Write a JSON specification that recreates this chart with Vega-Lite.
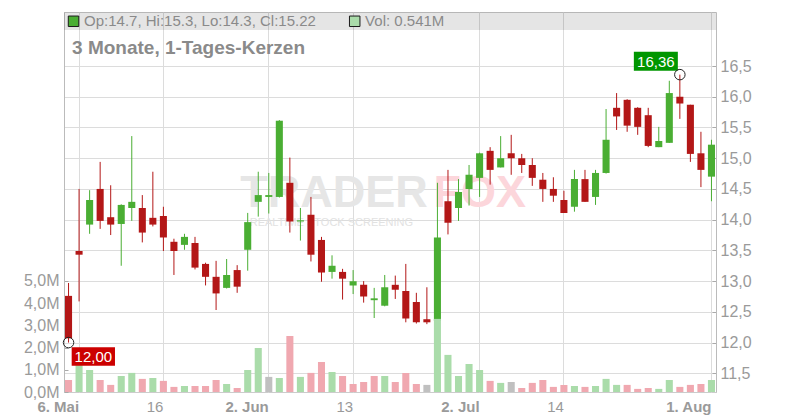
{
  "$schema": "https://vega.github.io/schema/vega-lite/v6.json",
  "width": 652,
  "height": 380,
  "autosize": {"type": "none"},
  "padding": {"left": 64, "top": 12, "right": 84, "bottom": 28},
  "background": "white",
  "config": {
    "font": "Liberation Sans",
    "view": {"stroke": "#cccccc", "strokeWidth": 1},
    "axis": {"labelFont": "Liberation Sans", "labelColor": "#9a9a9a", "gridColor": "#dcdcdc", "gridWidth": 1, "domainColor": "#bbbbbb", "tickColor": "#aaaaaa", "title": null, "labelOverlap": false}
  },
  "data": {"values": [
    {"d":"2025-05-05","o":12.76,"h":12.97,"l":12.00,"c":12.07,"v":540000},
    {"d":"2025-05-06","o":13.49,"h":14.50,"l":12.67,"c":13.43,"v":1400000},
    {"d":"2025-05-07","o":13.92,"h":14.48,"l":13.77,"c":14.32,"v":990000},
    {"d":"2025-05-08","o":14.50,"h":14.94,"l":13.85,"c":13.98,"v":540000},
    {"d":"2025-05-09","o":14.04,"h":14.56,"l":13.75,"c":13.92,"v":320000},
    {"d":"2025-05-12","o":13.93,"h":14.25,"l":13.25,"c":14.24,"v":720000},
    {"d":"2025-05-13","o":14.19,"h":15.36,"l":13.98,"c":14.29,"v":860000},
    {"d":"2025-05-14","o":14.19,"h":14.40,"l":13.63,"c":13.79,"v":590000},
    {"d":"2025-05-15","o":14.03,"h":14.78,"l":13.89,"c":13.92,"v":630000},
    {"d":"2025-05-16","o":14.06,"h":14.21,"l":13.49,"c":13.71,"v":500000},
    {"d":"2025-05-19","o":13.64,"h":13.69,"l":13.10,"c":13.49,"v":230000},
    {"d":"2025-05-20","o":13.59,"h":13.77,"l":13.51,"c":13.72,"v":270000},
    {"d":"2025-05-21","o":13.62,"h":13.72,"l":13.19,"c":13.22,"v":270000},
    {"d":"2025-05-22","o":13.28,"h":13.30,"l":12.93,"c":13.07,"v":270000},
    {"d":"2025-05-23","o":13.07,"h":13.33,"l":12.53,"c":12.80,"v":540000},
    {"d":"2025-05-26","o":12.89,"h":13.36,"l":12.88,"c":13.10,"v":360000},
    {"d":"2025-05-27","o":13.18,"h":13.26,"l":12.81,"c":12.91,"v":180000},
    {"d":"2025-05-28","o":13.51,"h":14.11,"l":13.17,"c":13.96,"v":990000},
    {"d":"2025-05-30","o":14.29,"h":14.78,"l":14.05,"c":14.40,"v":1980000},
    {"d":"2025-06-02","o":14.37,"h":14.76,"l":14.10,"c":14.40,"v":680000},
    {"d":"2025-06-03","o":14.37,"h":15.62,"l":14.36,"c":15.61,"v":630000},
    {"d":"2025-06-04","o":14.60,"h":15.01,"l":13.79,"c":13.97,"v":2520000},
    {"d":"2025-06-05","o":13.97,"h":14.19,"l":13.66,"c":13.99,"v":680000},
    {"d":"2025-06-06","o":14.08,"h":14.37,"l":13.32,"c":13.43,"v":860000},
    {"d":"2025-06-10","o":13.67,"h":13.72,"l":12.99,"c":13.14,"v":1350000},
    {"d":"2025-06-11","o":13.15,"h":13.42,"l":13.04,"c":13.25,"v":900000},
    {"d":"2025-06-12","o":13.15,"h":13.20,"l":12.70,"c":13.04,"v":720000},
    {"d":"2025-06-13","o":12.93,"h":13.18,"l":12.79,"c":13.00,"v":360000},
    {"d":"2025-06-16","o":12.94,"h":13.00,"l":12.65,"c":12.75,"v":450000},
    {"d":"2025-06-17","o":12.69,"h":12.89,"l":12.40,"c":12.72,"v":720000},
    {"d":"2025-06-18","o":12.60,"h":13.10,"l":12.59,"c":12.90,"v":720000},
    {"d":"2025-06-20","o":12.94,"h":13.09,"l":12.71,"c":12.86,"v":450000},
    {"d":"2025-06-23","o":12.84,"h":13.28,"l":12.33,"c":12.39,"v":860000},
    {"d":"2025-06-24","o":12.66,"h":12.81,"l":12.31,"c":12.33,"v":360000},
    {"d":"2025-06-25","o":12.38,"h":12.90,"l":12.30,"c":12.33,"v":320000},
    {"d":"2025-06-26","o":12.35,"h":14.60,"l":12.30,"c":13.71,"v":3290000},
    {"d":"2025-06-27","o":14.30,"h":14.81,"l":13.76,"c":13.95,"v":1670000},
    {"d":"2025-06-30","o":14.19,"h":14.66,"l":13.98,"c":14.45,"v":720000},
    {"d":"2025-07-01","o":14.50,"h":14.89,"l":14.23,"c":14.73,"v":1260000},
    {"d":"2025-07-02","o":14.68,"h":15.09,"l":14.37,"c":15.08,"v":990000},
    {"d":"2025-07-03","o":15.12,"h":15.18,"l":14.57,"c":14.81,"v":500000},
    {"d":"2025-07-04","o":14.85,"h":15.36,"l":14.85,"c":15.00,"v":410000},
    {"d":"2025-07-07","o":15.08,"h":15.38,"l":14.73,"c":15.00,"v":450000},
    {"d":"2025-07-08","o":15.00,"h":15.07,"l":14.76,"c":14.89,"v":180000},
    {"d":"2025-07-09","o":14.89,"h":15.00,"l":14.55,"c":14.68,"v":410000},
    {"d":"2025-07-10","o":14.65,"h":14.76,"l":14.29,"c":14.50,"v":540000},
    {"d":"2025-07-11","o":14.50,"h":14.69,"l":14.29,"c":14.39,"v":230000},
    {"d":"2025-07-14","o":14.32,"h":14.47,"l":14.11,"c":14.11,"v":320000},
    {"d":"2025-07-15","o":14.21,"h":14.81,"l":14.13,"c":14.66,"v":270000},
    {"d":"2025-07-16","o":14.66,"h":14.81,"l":14.29,"c":14.29,"v":230000},
    {"d":"2025-07-17","o":14.37,"h":14.81,"l":14.24,"c":14.76,"v":270000},
    {"d":"2025-07-18","o":14.76,"h":15.80,"l":14.75,"c":15.30,"v":590000},
    {"d":"2025-07-21","o":15.82,"h":16.06,"l":15.46,"c":15.68,"v":320000},
    {"d":"2025-07-22","o":15.95,"h":15.96,"l":15.43,"c":15.53,"v":320000},
    {"d":"2025-07-23","o":15.82,"h":15.83,"l":15.38,"c":15.51,"v":140000},
    {"d":"2025-07-24","o":15.70,"h":15.82,"l":15.18,"c":15.20,"v":180000},
    {"d":"2025-07-25","o":15.18,"h":15.51,"l":15.18,"c":15.28,"v":140000},
    {"d":"2025-07-28","o":15.25,"h":16.26,"l":15.25,"c":16.06,"v":540000},
    {"d":"2025-07-29","o":16.00,"h":16.36,"l":15.64,"c":15.89,"v":230000},
    {"d":"2025-07-30","o":15.87,"h":15.87,"l":14.94,"c":15.07,"v":320000},
    {"d":"2025-07-31","o":15.08,"h":15.43,"l":14.53,"c":14.81,"v":360000},
    {"d":"2025-08-01","o":14.70,"h":15.30,"l":14.30,"c":15.22,"v":541000}
  ]},
  "transform": [
    {"window": [{"op": "lag", "field": "c", "as": "pc"}], "sort": [{"field": "d", "order": "ascending"}]},
    {"calculate": "datum.pc == null ? 'down' : (datum.c > datum.pc ? 'up' : (datum.c < datum.pc ? 'down' : 'flat'))", "as": "vdir"}
  ],
  "layer": [
    {
      "layer": [
        {
          "data": {"values": [{"k": 1}]},
          "mark": {"type": "rect", "fill": "#000000", "opacity": 0.1},
          "encoding": {
            "y": {"datum": 17.379, "type": "quantitative", "scale": {"domain": [11.196, 17.379], "nice": false, "zero": false}},
            "y2": {"datum": 17.086}
          }
        },
        {
          "data": {"values": [{"t": "TRADER"}]},
          "mark": {"type": "text", "align": "left", "baseline": "alphabetic", "fontSize": 45, "fontWeight": "bold", "color": "#e6e6e6", "dx": 3},
          "encoding": {
            "x": {"datum": "2025-05-27", "type": "ordinal"},
            "y": {"datum": 14.211, "type": "quantitative", "scale": {"domain": [11.196, 17.379], "nice": false, "zero": false}},
            "text": {"field": "t"}
          }
        },
        {
          "data": {"values": [{"t": "FOX"}]},
          "mark": {"type": "text", "align": "left", "baseline": "alphabetic", "fontSize": 45, "fontWeight": "bold", "color": "#fcd6db", "dx": -4},
          "encoding": {
            "x": {"datum": "2025-06-26", "type": "ordinal"},
            "y": {"datum": 14.211, "type": "quantitative", "scale": {"domain": [11.196, 17.379], "nice": false, "zero": false}},
            "text": {"field": "t"}
          }
        },
        {
          "data": {"values": [{"t": "REALTIME STOCK SCREENING"}]},
          "mark": {"type": "text", "align": "left", "baseline": "alphabetic", "fontSize": 11, "color": "#e2e2e2", "dx": 2},
          "encoding": {
            "x": {"datum": "2025-05-28", "type": "ordinal"},
            "y": {"datum": 13.90, "type": "quantitative", "scale": {"domain": [11.196, 17.379], "nice": false, "zero": false}},
            "text": {"field": "t"}
          }
        },
        {
          "mark": {"type": "rule", "strokeWidth": 1},
          "encoding": {
            "x": {"field": "d", "type": "ordinal"},
            "y": {"field": "h", "type": "quantitative", "scale": {"domain": [11.196, 17.379], "nice": false, "zero": false}},
            "y2": {"field": "l"},
            "color": {"condition": {"test": "datum.c >= datum.o", "value": "#4aae33"}, "value": "#b31717"}
          }
        },
        {
          "mark": {"type": "bar"},
          "encoding": {
            "x": {
              "field": "d", "type": "ordinal",
              "scale": {"type": "band", "paddingInner": 0.33, "paddingOuter": 0.095},
              "axis": {
                "title": null,
                "values": ["2025-05-06", "2025-05-16", "2025-06-02", "2025-06-13", "2025-07-02", "2025-07-14", "2025-08-01"],
                "labelExpr": "datum.value == '2025-05-06' ? '6. Mai' : datum.value == '2025-05-16' ? '16' : datum.value == '2025-06-02' ? '2. Jun' : datum.value == '2025-06-13' ? '13' : datum.value == '2025-07-02' ? '2. Jul' : datum.value == '2025-07-14' ? '14' : '1. Aug'",
                "labelFontWeight": {"condition": {"test": "indexof(['2025-05-06','2025-06-02','2025-07-02','2025-08-01'], datum.value) >= 0", "value": "bold"}, "value": "normal"},
                "labelAngle": 0,
                "labelFontSize": 15,
                "labelPadding": 14,
                "ticks": false,
                "domain": false,
                "grid": true,
                "labelOverlap": false,
                "bandPosition": 0.5
              }
            },
            "y": {
              "field": "o", "type": "quantitative",
              "scale": {"domain": [11.196, 17.379], "nice": false, "zero": false},
              "axis": {
                "orient": "right",
                "title": null,
                "values": [11.5, 12, 12.5, 13, 13.5, 14, 14.5, 15, 15.5, 16, 16.5],
                "tickCount": 30,
                "labelExpr": "replace(format(datum.value, '.1f'), '.', ',')",
                "labelFontSize": 16,
                "tickSize": -4,
                "labelPadding": 8,
                "labelOverlap": false,
                "grid": true,
                "domain": true
              }
            },
            "y2": {"field": "c"},
            "color": {"condition": {"test": "datum.c >= datum.o", "value": "#4aae33"}, "value": "#b31717"}
          }
        }
      ]
    },
    {
      "mark": {"type": "bar"},
      "encoding": {
        "x": {"field": "d", "type": "ordinal"},
        "y": {
          "field": "v", "type": "quantitative", "stack": null,
          "scale": {"domain": [0, 17100000], "nice": false, "zero": true},
          "axis": {
            "orient": "left",
            "title": null,
            "values": [0, 1000000, 2000000, 3000000, 4000000, 5000000],
            "tickCount": 30,
            "labelExpr": "replace(format(datum.value / 1000000, '.1f'), '.', ',') + 'M'",
            "labelFontSize": 16,
            "tickSize": -4,
            "labelPadding": 9,
            "labelOverlap": false,
            "grid": false,
            "domain": true
          }
        },
        "color": {"field": "vdir", "type": "nominal", "scale": {"domain": ["up", "down", "flat"], "range": ["#aadcaa", "#f0a8b0", "#c0c0c0"]}, "legend": null}
      }
    },
    {
      "layer": [
        {
          "transform": [
            {"joinaggregate": [{"op": "max", "field": "h", "as": "hmax"}]},
            {"filter": "datum.h == datum.hmax"},
            {"calculate": "replace(format(datum.h, '.2f'), '.', ',')", "as": "lbl"}
          ],
          "encoding": {
            "x": {"field": "d", "type": "ordinal"},
            "y": {"field": "h", "type": "quantitative", "scale": {"domain": [11.196, 17.379], "nice": false, "zero": false}, "axis": null}
          },
          "layer": [
            {"mark": {"type": "point", "shape": "M-1,-0.43H1V0.43H-1Z", "size": 1936, "filled": true, "color": "#009600", "opacity": 1, "xOffset": -24, "yOffset": -13.4}},
            {"mark": {"type": "text", "color": "white", "fontSize": 15, "align": "center", "baseline": "middle", "dx": -24, "dy": -13}, "encoding": {"text": {"field": "lbl"}}},
            {"mark": {"type": "point", "shape": "circle", "size": 110, "filled": false, "stroke": "#222222", "strokeWidth": 1, "opacity": 1}}
          ]
        },
        {
          "transform": [
            {"joinaggregate": [{"op": "min", "field": "l", "as": "lmin"}]},
            {"filter": "datum.l == datum.lmin"},
            {"calculate": "replace(format(datum.l, '.2f'), '.', ',')", "as": "lbl"}
          ],
          "encoding": {
            "x": {"field": "d", "type": "ordinal"},
            "y": {"field": "l", "type": "quantitative", "scale": {"domain": [11.196, 17.379], "nice": false, "zero": false}, "axis": null}
          },
          "layer": [
            {"mark": {"type": "point", "shape": "M-1,-0.43H1V0.43H-1Z", "size": 1876, "filled": true, "color": "#cc0000", "opacity": 1, "xOffset": 24.8, "yOffset": 13.9}},
            {"mark": {"type": "text", "color": "white", "fontSize": 15, "align": "center", "baseline": "middle", "dx": 24.8, "dy": 14.3}, "encoding": {"text": {"field": "lbl"}}},
            {"mark": {"type": "point", "shape": "circle", "size": 110, "filled": false, "stroke": "#222222", "strokeWidth": 1, "opacity": 1}}
          ]
        },
        {
          "data": {"values": [{"k": 1}]},
          "mark": {"type": "point", "shape": "square", "size": 110, "filled": true, "fill": "#4aae33", "stroke": "#1a1a1a", "strokeWidth": 1, "opacity": 1, "xOffset": 5},
          "encoding": {
            "x": {"datum": "2025-05-05", "type": "ordinal"},
            "y": {"datum": 17.228, "type": "quantitative", "scale": {"domain": [11.196, 17.379], "nice": false, "zero": false}, "axis": null}
          }
        },
        {
          "data": {"values": [{"t": "Op:14.7, Hi:15.3, Lo:14.3, Cl:15.22"}]},
          "mark": {"type": "text", "align": "left", "baseline": "middle", "fontSize": 15, "color": "#8a8a8a", "dx": 15.5},
          "encoding": {
            "x": {"datum": "2025-05-05", "type": "ordinal"},
            "y": {"datum": 17.228, "type": "quantitative", "scale": {"domain": [11.196, 17.379], "nice": false, "zero": false}, "axis": null},
            "text": {"field": "t"}
          }
        },
        {
          "data": {"values": [{"k": 1}]},
          "mark": {"type": "point", "shape": "square", "size": 110, "filled": true, "fill": "#aadcaa", "stroke": "#1a1a1a", "strokeWidth": 1, "opacity": 1, "xOffset": 1.6},
          "encoding": {
            "x": {"datum": "2025-06-13", "type": "ordinal"},
            "y": {"datum": 17.228, "type": "quantitative", "scale": {"domain": [11.196, 17.379], "nice": false, "zero": false}, "axis": null}
          }
        },
        {
          "data": {"values": [{"t": "Vol: 0.541M"}]},
          "mark": {"type": "text", "align": "left", "baseline": "middle", "fontSize": 15, "color": "#8a8a8a", "dx": 12},
          "encoding": {
            "x": {"datum": "2025-06-13", "type": "ordinal"},
            "y": {"datum": 17.228, "type": "quantitative", "scale": {"domain": [11.196, 17.379], "nice": false, "zero": false}, "axis": null},
            "text": {"field": "t"}
          }
        },
        {
          "data": {"values": [{"t": "3 Monate, 1-Tages-Kerzen"}]},
          "mark": {"type": "text", "align": "left", "baseline": "alphabetic", "fontSize": 19, "fontWeight": "bold", "color": "#8a8a8a", "dx": 3.5},
          "encoding": {
            "x": {"datum": "2025-05-05", "type": "ordinal"},
            "y": {"datum": 16.696, "type": "quantitative", "scale": {"domain": [11.196, 17.379], "nice": false, "zero": false}, "axis": null},
            "text": {"field": "t"}
          }
        }
      ]
    }
  ],
  "resolve": {"scale": {"y": "independent"}}
}
